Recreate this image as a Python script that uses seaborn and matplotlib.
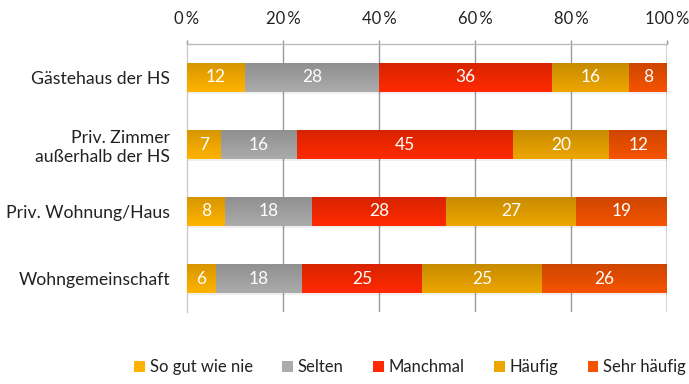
import numpy as np
import pandas as pd
import matplotlib
matplotlib.use("Agg")
import matplotlib.pyplot as plt
from matplotlib.patches import Patch
import seaborn as sns

categories = ["Gästehaus der HS", "Priv. Zimmer\naußerhalb der HS",
              "Priv. Wohnung/Haus", "Wohngemeinschaft"]
series = ["So gut wie nie", "Selten", "Manchmal", "Häufig", "Sehr häufig"]
so_gut_wie_nie = [12, 7, 8, 6]
selten = [28, 16, 18, 18]
manchmal = [36, 45, 28, 25]
haeufig = [16, 20, 27, 25]
sehr_haeufig = [8, 12, 19, 26]
tick_values = [0, 20, 40, 60, 80, 100]
tick_labels = ["0\u2009%", "20\u2009%", "40\u2009%", "60\u2009%", "80\u2009%", "100\u2009%"]

colors = ["#FFB300", "#ABABAB", "#FF2A00", "#EDA600", "#F55300"]

sns.set_theme(style="white")
plt.rcParams["font.family"] = ["Lato", "DejaVu Sans"]

values = pd.DataFrame(
    dict(zip(series, [so_gut_wie_nie, selten, manchmal, haeufig, sehr_haeufig])),
    index=categories,
)
cum = values.cumsum(axis=1)

fig = plt.figure(figsize=(6.89, 3.84), dpi=100)
ax = fig.add_axes([187 / 689, 1 - 312 / 384, 480 / 689, 268 / 384])

bar_w = 0.42
# stacked bars: draw cumulative totals from the outermost segment inwards
for name, col in reversed(list(zip(series, colors))):
    df = pd.DataFrame({"cat": categories, "val": cum[name].values})
    sns.barplot(data=df, x="val", y="cat", orient="h", color=col,
                saturation=1, width=bar_w, ax=ax, zorder=3, linewidth=0)

# soft vertical shading on each bar
grad = np.zeros((64, 1, 4))
a = np.linspace(0, 1, 64)
grad[:, 0, 3] = 0.16 * a
for i in range(len(categories)):
    ax.imshow(grad, extent=(0, 100, i - bar_w / 2, i + bar_w / 2),
              origin="upper", aspect="auto", zorder=4, interpolation="bilinear")
    # faint drop shadow
    ax.fill_between([0.3, 100], i + bar_w / 2, i + bar_w / 2 + 0.03,
                    color="#000000", alpha=0.06, lw=0, zorder=2)

# value labels
for i, cat in enumerate(categories):
    for name in series:
        v = values.loc[cat, name]
        center = cum.loc[cat, name] - v / 2
        ax.text(center, i, f"{v}", color="white", ha="center", va="center",
                fontsize=12.5, zorder=5)

ax.set_xlim(0, 100)
ax.set_ylim(3.5, -0.5)
ax.set_xlabel("")
ax.set_ylabel("")
ax.xaxis.tick_top()
ax.set_xticks(tick_values)
ax.set_xticklabels(tick_labels, fontsize=12, color="#222222")
ax.tick_params(axis="x", length=3, width=1, color="#999999", pad=9)
ax.set_yticks(range(len(categories)))
ax.set_yticklabels(categories, fontsize=12.7, color="#222222")
ax.set_yticks([-0.5, 0.5, 1.5, 2.5, 3.5], minor=True)
ax.tick_params(axis="y", which="major", length=0, pad=12)
ax.tick_params(axis="y", which="minor", length=3, width=1, color="#bbbbbb")

for s in ["right", "bottom"]:
    ax.spines[s].set_visible(False)
ax.spines["top"].set_color("#bbbbbb")
ax.spines["top"].set_linewidth(1)
ax.spines["left"].set_color("#cccccc")
ax.spines["left"].set_linewidth(1)

for x in tick_values[1:-1]:
    ax.axvline(x, color="#999999", lw=1, zorder=1)
ax.axvline(100, color="#cccccc", lw=2, zorder=1)
for t in ax.xaxis.get_major_ticks():
    t.tick1line.set_visible(False)
    t.tick2line.set_color("#999999")

handles = [Patch(facecolor=c, edgecolor="none") for c in colors]
fig.legend(handles, series, loc="center", bbox_to_anchor=(0.595, 0.043),
           ncol=5, frameon=False, fontsize=12, handlelength=0.65,
           handleheight=0.65, handletextpad=0.3, columnspacing=1.75,
           labelcolor="#222222")

fig.savefig("out.png", dpi=100)
